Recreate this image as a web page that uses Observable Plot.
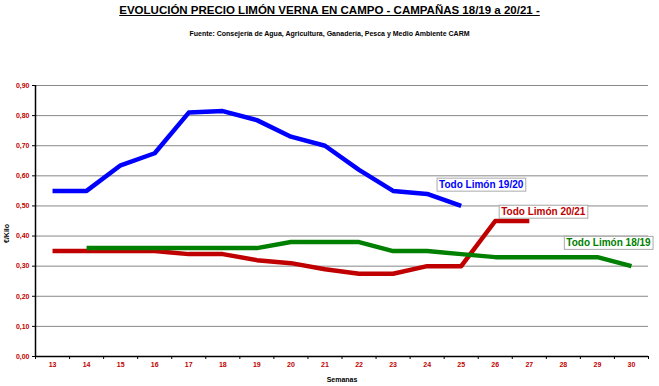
<!DOCTYPE html>
<html><head><meta charset="utf-8">
<script src="https://cdn.jsdelivr.net/npm/d3@7"></script>
<script src="https://cdn.jsdelivr.net/npm/@observablehq/plot@0.6"></script>
<style>
body{margin:0;background:#fff;font-family:"Liberation Sans",Arial,sans-serif;}
#wrap{position:relative;width:659px;height:386px;}
#title{position:absolute;left:0;width:659px;top:4px;text-align:center;font-weight:bold;font-size:11.5px;text-decoration:underline;}
#sub{position:absolute;left:0;width:659px;top:30px;text-align:center;font-weight:bold;font-size:7px;}
</style></head><body>
<div id="wrap"><div id="chart"></div>
<div id="title">EVOLUCIÓN PRECIO LIMÓN VERNA EN CAMPO - CAMPAÑAS 18/19 a 20/21 -</div>
<div id="sub">Fuente: Consejería de Agua, Agricultura, Ganadería, Pesca y Medio Ambiente CARM</div>
</div>
<script>
const weeks = [13,14,15,16,17,18,19,20,21,22,23,24,25,26,27,28,29,30];
const yTicks = [0,0.1,0.2,0.3,0.4,0.5,0.6,0.7,0.8,0.9];
const s1920Weeks = [13,14,15,16,17,18,19,20,21,22,23,24,25];
const s1920 = [0.55,0.55,0.635,0.675,0.81,0.815,0.785,0.73,0.70,0.62,0.55,0.54,0.50];
const s2021Weeks = [13,14,15,16,17,18,19,20,21,22,23,24,25,26,27];
const s2021 = [0.35,0.35,0.35,0.35,0.34,0.34,0.32,0.31,0.29,0.275,0.275,0.30,0.30,0.45,0.45];
const s1819Weeks = [14,15,16,17,18,19,20,21,22,23,24,25,26,27,28,29,30];
const s1819 = [0.36,0.36,0.36,0.36,0.36,0.36,0.38,0.38,0.38,0.35,0.35,0.34,0.33,0.33,0.33,0.33,0.30];
const seriesNames = ["Todo Limón 19/20","Todo Limón 20/21","Todo Limón 18/19"];
const colors = ["#0000ff","#c00000","#008000"];

const rows = [];
s1920Weeks.forEach((w,i)=>rows.push({s:seriesNames[0],w,v:s1920[i]}));
s2021Weeks.forEach((w,i)=>rows.push({s:seriesNames[1],w,v:s2021[i]}));
s1819Weeks.forEach((w,i)=>rows.push({s:seriesNames[2],w,v:s1819[i]}));
const lastOf = n => rows.filter(r=>r.s===n).slice(-1)[0];
const labels = [
  {...lastOf(seriesNames[0]), dx:20, dy:-21, c:colors[0]},
  {...lastOf(seriesNames[1]), dx:14, dy:-9, c:colors[1]},
  {...lastOf(seriesNames[2]), dx:-23, dy:-23, c:colors[2]}
];
const bounds = [...weeks.map(w=>w-0.5), weeks[weeks.length-1]+0.5];
const fmt = d => d3.format(".2f")(d).replace(".", ",");

const plot = Plot.plot({
  width:659, height:386,
  marginLeft:35, marginRight:11, marginTop:85, marginBottom:30,
  style:{fontFamily:"Liberation Sans, Arial, sans-serif"},
  x:{type:"linear", domain:[12.5,30.5]},
  y:{domain:[0,0.9]},
  color:{domain:seriesNames, range:colors},
  marks:[
    Plot.ruleY(yTicks.filter(d=>d>0),{stroke:"#888",strokeWidth:1,strokeOpacity:1}),
    Plot.axisY({ticks:yTicks, tickFormat:fmt, tickSize:3, tickPadding:3, fill:"#c00000", fontSize:7, fontWeight:"bold", label:null}),
    Plot.axisX({ticks:bounds, tickFormat:()=>"", tickSize:3, label:null}),
    Plot.axisX({ticks:weeks, tickFormat:d=>String(d), tickSize:0, tickPadding:6, fill:"#c00000", fontSize:7, fontWeight:"bold", label:null}),
    Plot.ruleX([12.5],{stroke:"#000",strokeWidth:1.5}),
    Plot.ruleY([0],{stroke:"#000",strokeWidth:1.5}),
    Plot.line(rows,{x:"w",y:"v",z:"s",stroke:"s",strokeWidth:4.5,strokeLinejoin:"round",strokeLinecap:"butt"}),
    ...labels.map(l=>Plot.text([l],{x:"w",y:"v",text:"s",dx:l.dx,dy:l.dy,fill:l.c,fontWeight:"bold",fontSize:10,className:"lbl"})),
    Plot.text(["Semanas"],{frameAnchor:"bottom",dy:25,fontWeight:"bold",fontSize:7,fill:"#000"}),
    Plot.text(["€/Kilo"],{frameAnchor:"left",dx:-29,dy:22,rotate:-90,fontWeight:"bold",fontSize:7,fill:"#000"})
  ]
});
document.getElementById("chart").appendChild(plot);
d3.select(plot).selectAll(".lbl text").each(function(){
  const b=this.getBBox();
  const tr=this.getAttribute("transform");
  d3.select(this.parentNode).insert("rect",()=>this)
    .attr("x",b.x-2).attr("y",b.y-1).attr("width",b.width+4).attr("height",b.height+2)
    .attr("transform",tr).attr("fill","#fff").attr("stroke","#aaa").attr("stroke-width",1);
});
</script></body></html>
